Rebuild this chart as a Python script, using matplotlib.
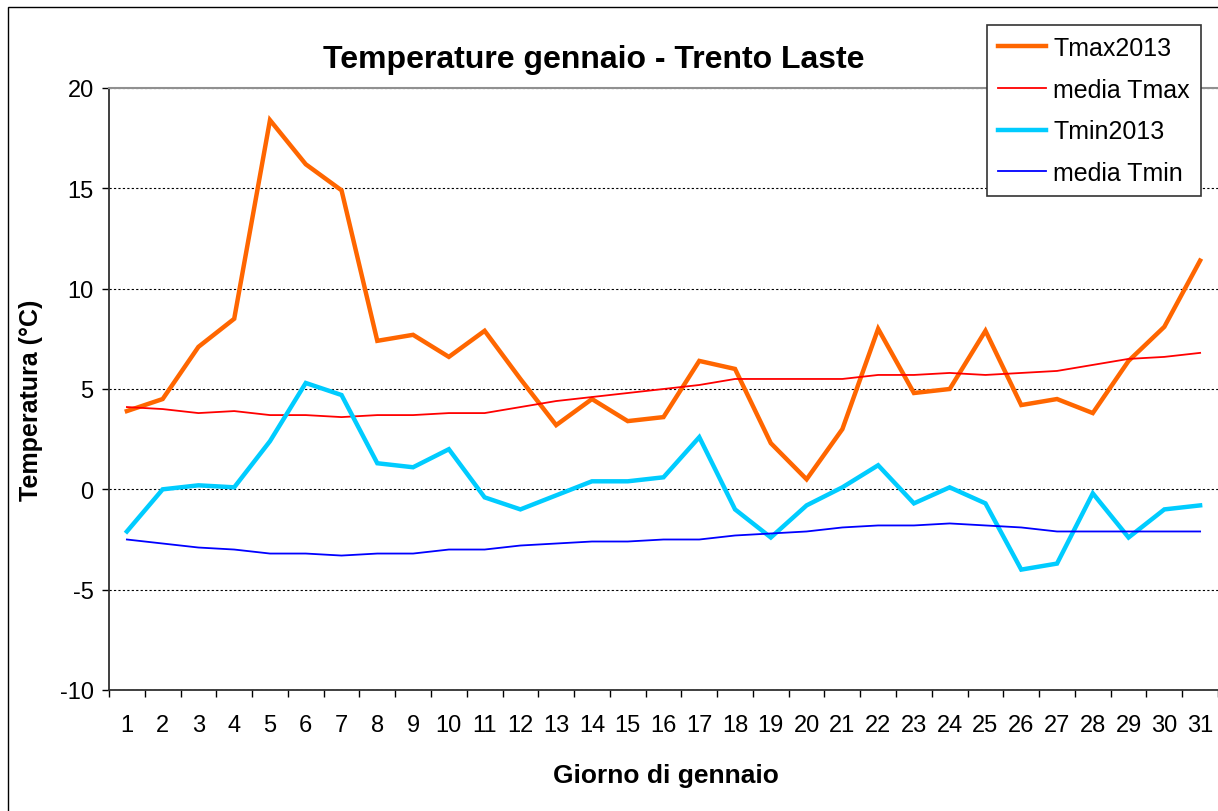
import matplotlib
matplotlib.use("Agg")
import matplotlib.pyplot as plt
from matplotlib.patches import Rectangle
from matplotlib.ticker import FixedLocator

plt.rcParams['font.family'] = ['Liberation Sans', 'DejaVu Sans']
plt.rcParams['axes.unicode_minus'] = False

# Daily data, January 2013, Trento Laste
giorni = list(range(1, 32))
tmax_2013 = [3.9, 4.5, 7.1, 8.5, 18.4, 16.2, 14.9, 7.4, 7.7, 6.6, 7.9, 5.5, 3.2, 4.5, 3.4, 3.6,
             6.4, 6.0, 2.3, 0.5, 3.0, 8.0, 4.8, 5.0, 7.9, 4.2, 4.5, 3.8, 6.4, 8.1, 11.4]
media_tmax = [4.1, 4.0, 3.8, 3.9, 3.7, 3.7, 3.6, 3.7, 3.7, 3.8, 3.8, 4.1, 4.4, 4.6, 4.8, 5.0,
              5.2, 5.5, 5.5, 5.5, 5.5, 5.7, 5.7, 5.8, 5.7, 5.8, 5.9, 6.2, 6.5, 6.6, 6.8]
tmin_2013 = [-2.1, 0.0, 0.2, 0.1, 2.4, 5.3, 4.7, 1.3, 1.1, 2.0, -0.4, -1.0, -0.3, 0.4, 0.4, 0.6,
             2.6, -1.0, -2.4, -0.8, 0.1, 1.2, -0.7, 0.1, -0.7, -4.0, -3.7, -0.2, -2.4, -1.0, -0.8]
media_tmin = [-2.5, -2.7, -2.9, -3.0, -3.2, -3.2, -3.3, -3.2, -3.2, -3.0, -3.0, -2.8, -2.7, -2.6, -2.6, -2.5,
              -2.5, -2.3, -2.2, -2.1, -1.9, -1.8, -1.8, -1.7, -1.8, -1.9, -2.1, -2.1, -2.1, -2.1, -2.1]

W, H = 1218, 812
fig = plt.figure(figsize=(W / 100, H / 100), dpi=100)

# outer chart border
fig.patches.append(Rectangle((8 / W, -0.1), 2, 1 - 8 / H + 0.1, transform=fig.transFigure,
                             fill=False, ec='black', lw=1.0))

ax = fig.add_axes([109 / W, 1 - 691 / H, 1 - 109 / W, (691 - 89) / H])

ax.plot(giorni, tmax_2013, color='#FF6600', lw=3.2, label='Tmax2013', solid_joinstyle='miter')
ax.plot(giorni, media_tmax, color='#FF0000', lw=1.3, label='media Tmax')
ax.plot(giorni, tmin_2013, color='#00CCFF', lw=3.2, label='Tmin2013', solid_joinstyle='miter')
ax.plot(giorni, media_tmin, color='#0000FF', lw=1.3, label='media Tmin')

ax.set_xlim(0.5, 31.5)
ax.set_ylim(-10, 20)
ax.set_yticks(range(-10, 21, 5))
ax.set_xticks(giorni)
ax.xaxis.set_minor_locator(FixedLocator([g - 0.5 for g in giorni] + [31.5]))

ax.yaxis.grid(True, color='black', linestyle=(0, (2, 2)), linewidth=0.8)
ax.tick_params(axis='y', direction='out', length=5, width=1, pad=6, labelsize=17, colors='black')
ax.tick_params(axis='x', which='major', length=0, pad=17, labelsize=17)
ax.tick_params(axis='x', which='minor', direction='out', length=5, width=1)

ax.spines['right'].set_visible(False)
ax.spines['top'].set_color('#909090')
ax.spines['top'].set_linewidth(1.5)
ax.spines['left'].set_color('#303030')
ax.spines['left'].set_linewidth(1.3)
ax.spines['bottom'].set_color('#303030')
ax.spines['bottom'].set_linewidth(1.3)

fig.text(594 / W, 1 - 68 / H, 'Temperature gennaio - Trento Laste', ha='center', va='baseline',
         fontsize=23, fontweight='bold')
fig.text(666 / W, 1 - 783 / H, 'Giorno di gennaio', ha='center', va='baseline',
         fontsize=19, fontweight='bold')
fig.text(31 / W, 1 - 400 / H, 'Temperatura (°C)', ha='center', va='center', rotation=90,
         fontsize=18, fontweight='bold')

leg = fig.legend(loc='upper left', bbox_to_anchor=(987 / W, 1 - 25.5 / H), fontsize=18,
                 frameon=True, fancybox=False, framealpha=1, edgecolor='#333333',
                 borderpad=0.45, labelspacing=0.71, handlelength=1.9, handletextpad=0.3,
                 borderaxespad=0)
leg.get_frame().set_linewidth(1.2)

fig.savefig('out.png', dpi=100)
